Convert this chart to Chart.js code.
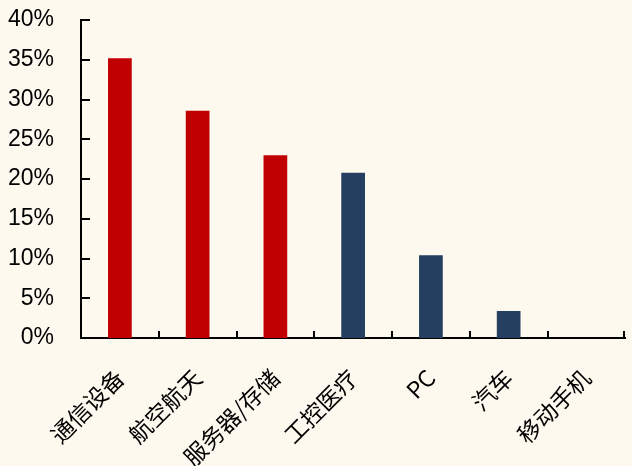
<!DOCTYPE html>
<html>
<head>
<meta charset="utf-8">
<script src="https://cdn.jsdelivr.net/npm/chart.js@4"></script>
<style>
  html, body { margin: 0; padding: 0; background: #FEF9EF; }
  canvas { display: block; }
</style>
</head>
<body>
<canvas id="c" width="632" height="466"></canvas>
<script>
// 各下游领域占比
const categories = ['通信设备', '航空航天', '服务器/存储', '工控医疗', 'PC', '汽车', '移动手机'];
const shares = [35.2, 28.6, 23.0, 20.8, 10.4, 3.4, 0];
const barColors = ['#C00000', '#C00000', '#C00000', '#243F60', '#243F60', '#243F60', '#243F60'];
const yTicks = [0, 5, 10, 15, 20, 25, 30, 35, 40];

// Short inward tick marks on both axes
const innerTicks = {
  id: 'innerTicks',
  afterDraw(chart) {
    const { ctx, chartArea, scales } = chart;
    const x = scales.x, y = scales.y;
    ctx.save();
    ctx.strokeStyle = '#000';
    ctx.lineWidth = 2;
    ctx.beginPath();
    yTicks.forEach(v => {
      const py = Math.round(y.getPixelForValue(v));
      ctx.moveTo(chartArea.left, py);
      ctx.lineTo(chartArea.left + 9, py);
    });
    for (let k = 1; k <= categories.length; k++) {
      const px = Math.round(x.getPixelForValue(k - 0.5)) - (k === categories.length ? 1 : 0);
      ctx.moveTo(px, chartArea.bottom);
      ctx.lineTo(px, chartArea.bottom - 7);
    }
    ctx.stroke();
    ctx.restore();
  }
};

new Chart(document.getElementById('c'), {
  type: 'bar',
  data: {
    labels: categories,
    datasets: [{
      data: shares,
      backgroundColor: barColors,
      borderWidth: 0,
      barPercentage: 0.305,
      categoryPercentage: 1.0
    }]
  },
  options: {
    responsive: false,
    animation: false,
    events: [],
    layout: { padding: { top: 20, right: 1, left: 0, bottom: 0 } },
    plugins: {
      legend: { display: false },
      tooltip: { enabled: false }
    },
    scales: {
      x: {
        grid: { display: false, drawTicks: false },
        border: { display: true, color: '#000', width: 2 },
        ticks: {
          color: '#000',
          font: { family: '"Noto Sans CJK SC", sans-serif', size: 23 },
          maxRotation: 45,
          minRotation: 45,
          padding: 26,
          autoSkip: false
        },
        afterFit(s) { s.height = 128; }
      },
      y: {
        min: 0,
        max: 40,
        grid: { display: false, drawTicks: false },
        border: { display: true, color: '#000', width: 2 },
        afterBuildTicks(s) { s.ticks = yTicks.map(v => ({ value: v })); },
        ticks: {
          color: '#000',
          font: { family: '"Liberation Sans", Arial, sans-serif', size: 23 },
          padding: 27,
          callback: v => v + '%'
        },
        afterFit(s) {
          s.width = 81;
          s.paddingTop = 0;
          s.paddingBottom = 0;
        }
      }
    }
  },
  plugins: [innerTicks]
});
</script>
</body>
</html>
